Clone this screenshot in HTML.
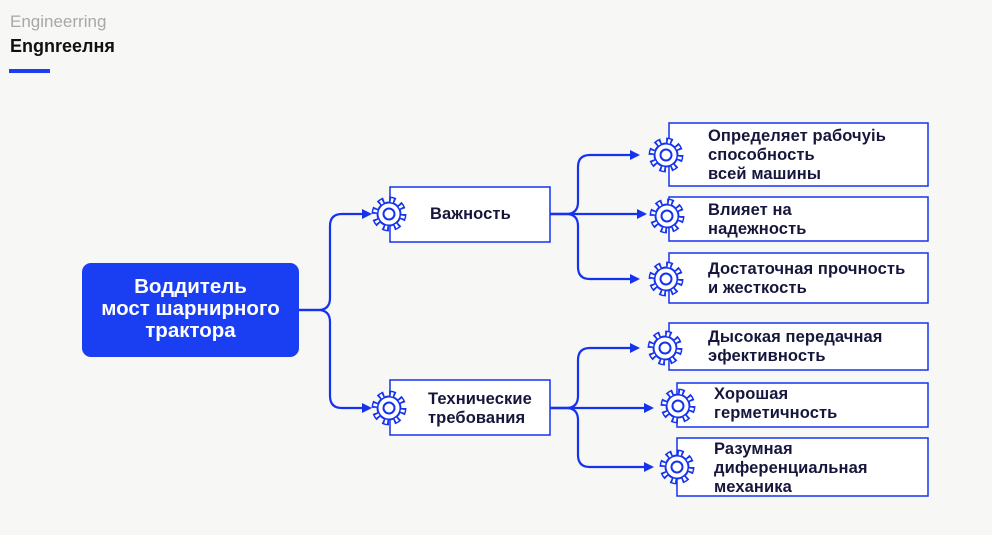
<!DOCTYPE html>
<html><head><meta charset="utf-8"><style>
html,body{margin:0;padding:0}
body{width:992px;height:535px;background:#f7f7f5;position:relative;overflow:hidden;font-family:"Liberation Sans",sans-serif}
.t{position:absolute;color:#16163c;font-size:16.5px;line-height:19px;font-weight:bold;letter-spacing:0.1px}
</style></head><body>
<div style="position:absolute;left:10px;top:12px;font-size:17px;color:#a8a8a8">Engineerring</div>
<div style="position:absolute;left:10px;top:36px;font-size:18px;font-weight:bold;color:#111">Engnreeлня</div>
<div style="position:absolute;left:9px;top:69px;width:41px;height:4px;background:#1f3df0"></div>

<svg width="992" height="535" style="position:absolute;left:0;top:0">
<defs>
<g id="g">
<circle r="14" fill="none" stroke="#1533ee" stroke-width="7" stroke-dasharray="6 5"/>
<circle r="12.5" fill="#1533ee"/>
<circle r="14" fill="none" stroke="#fff" stroke-width="4" stroke-dasharray="2.5 8.5" stroke-dashoffset="-1.75"/>
<circle r="10.5" fill="#fff"/>
<circle r="5.5" fill="none" stroke="#1533ee" stroke-width="2"/>
</g>
<marker id="a" markerWidth="10" markerHeight="10" refX="8" refY="5" orient="auto" markerUnits="userSpaceOnUse"><path d="M0,0L10,5L0,10z" fill="#1533ee"/></marker>
</defs>
<rect x="82" y="263" width="217" height="94" rx="9" fill="#1a3ff2"/>
<g fill="#fff" stroke="#1533ee" stroke-width="1.5">
<rect x="390" y="187" width="160" height="55"/>
<rect x="390" y="380" width="160" height="55"/>
<rect x="669" y="123" width="259" height="63"/>
<rect x="669" y="197" width="259" height="44"/>
<rect x="669" y="253" width="259" height="50"/>
<rect x="669" y="323" width="259" height="47"/>
<rect x="677" y="383" width="251" height="44"/>
<rect x="677" y="438" width="251" height="58"/>
</g>
<g fill="none" stroke="#1533ee" stroke-width="2.2">
<path d="M299,310 H318 Q330,310 330,298 V226 Q330,214 342,214 H370" marker-end="url(#a)"/>
<path d="M299,310 H318 Q330,310 330,322 V396 Q330,408 342,408 H370" marker-end="url(#a)"/>
<path d="M550,214 H566 Q578,214 578,202 V167 Q578,155 590,155 H638" marker-end="url(#a)"/>
<path d="M550,214 H645" marker-end="url(#a)"/>
<path d="M550,214 H566 Q578,214 578,226 V267 Q578,279 590,279 H638" marker-end="url(#a)"/>
<path d="M550,408 H566 Q578,408 578,396 V360 Q578,348 590,348 H638" marker-end="url(#a)"/>
<path d="M550,408 H652" marker-end="url(#a)"/>
<path d="M550,408 H566 Q578,408 578,420 V455 Q578,467 590,467 H652" marker-end="url(#a)"/>
</g>
<use href="#g" x="389" y="214"/>
<use href="#g" x="389" y="408"/>
<use href="#g" x="666" y="155"/>
<use href="#g" x="667" y="216"/>
<use href="#g" x="666" y="279"/>
<use href="#g" x="665" y="348"/>
<use href="#g" x="678" y="406"/>
<use href="#g" x="677" y="467"/>
</svg>

<div style="position:absolute;left:82px;top:276px;width:217px;text-align:center;color:#fff;font-weight:bold;font-size:20.5px;line-height:22px">Воддитель<br>мост шарнирного<br>трактора</div>
<div class="t" style="left:430px;top:205px">Важность</div>
<div class="t" style="left:428px;top:390px">Технические<br>требования</div>
<div class="t" style="left:708px;top:127px">Определяет рабочуіь<br>способность<br>всей машины</div>
<div class="t" style="left:708px;top:201px">Влияет на<br>надежность</div>
<div class="t" style="left:708px;top:260px">Достаточная прочность<br>и жесткость</div>
<div class="t" style="left:708px;top:328px">Дысокая передачная<br>эфективность</div>
<div class="t" style="left:714px;top:385px">Хорошая<br>герметичность</div>
<div class="t" style="left:714px;top:440px">Разумная<br>диференциальная<br>механика</div>
</body></html>
